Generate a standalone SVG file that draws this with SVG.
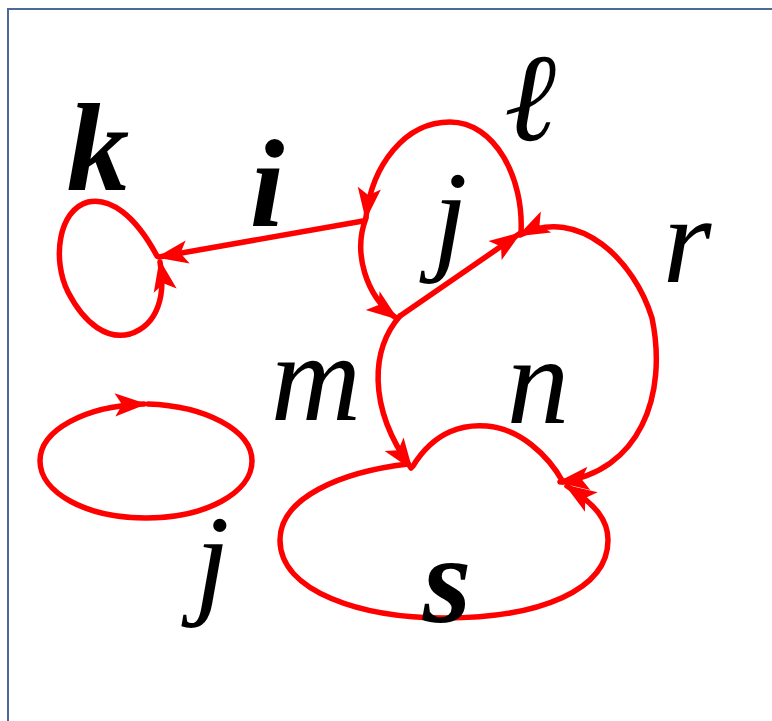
<svg xmlns="http://www.w3.org/2000/svg" width="772" height="721" viewBox="0 0 772 721">
<style>
.e{fill:none;stroke:#ff0000;stroke-width:5.5;stroke-linecap:round}
.t{font-family:"Liberation Serif","DejaVu Serif",serif;font-style:italic;font-size:125px;fill:#000;text-anchor:middle}
.b{font-weight:bold}
</style>
<defs>
<marker id="ah" viewBox="0 0 22 16" markerUnits="userSpaceOnUse" markerWidth="32" markerHeight="24" refX="20" refY="8" orient="auto-start-reverse" overflow="visible">
<path d="M0,0 L22,8 L0,16 L5,8 z" fill="#ff0000"/>
</marker>
</defs>
<rect x="8" y="9" width="800" height="800" fill="#fff" stroke="#4a6b9a" stroke-width="2"/>
<g id="connectors">
<path id="edge-k" class="e" marker-end="url(#ah)" d="M157,256 C135,215 110,197 88,202 C58,210 52,260 68,292 C85,325 108,340 130,334 C158,325 166,295 160,262"/>
<path id="edge-i" class="e" marker-end="url(#ah)" d="M363,221 L159,257"/>
<path id="edge-l" class="e" marker-end="url(#ah)" d="M521,233 C524,178 495,122 450,122 C405,122 372,165 366,217"/>
<path id="edge-bc" class="e" marker-end="url(#ah)" d="M366,218 C353,252 365,295 396,318"/>
<path id="edge-cd" class="e" marker-end="url(#ah)" d="M400,316 L519,234"/>
<path id="edge-r" class="e" marker-start="url(#ah)" marker-end="url(#ah)" d="M520,235 C580,205 635,262 652,318 C668,395 640,472 560,482"/>
<path id="edge-m" class="e" marker-end="url(#ah)" d="M400,316 C372,348 366,405 411,468"/>
<path id="edge-n" class="e" d="M413,466 C435,430 465,424 487,426 C520,429 548,455 563,482"/>
<path id="edge-s" class="e" marker-end="url(#ah)" d="M408,464 C340,472 280,498 280,540 C280,592 362,618 445,618 C540,618 608,590 608,540 C608,520 596,505 567,486"/>
<path id="edge-j" class="e" marker-end="url(#ah)" d="M148,404 C205,406 252,430 252,461 C252,493 205,518 146,518 C87,518 40,493 40,461 C40,430 85,406 144,404"/>
</g>
<g id="node-k"><text class="t b" x="98" y="190" font-size="112">k</text></g>
<g id="node-i"><text class="t b" x="267" y="226">i</text></g>
<g id="node-l"><text class="t" x="530" y="140">ℓ</text></g>
<g id="node-j1"><text class="t" x="450" y="257">j</text></g>
<g id="node-r"><text class="t" x="687" y="282">r</text></g>
<g id="node-m"><text class="t" x="316" y="420">m</text></g>
<g id="node-n"><text class="t" x="538" y="423">n</text></g>
<g id="node-j2"><text class="t" x="212" y="601">j</text></g>
<g id="node-s"><text class="t b" x="447" y="622">s</text></g>
</svg>
